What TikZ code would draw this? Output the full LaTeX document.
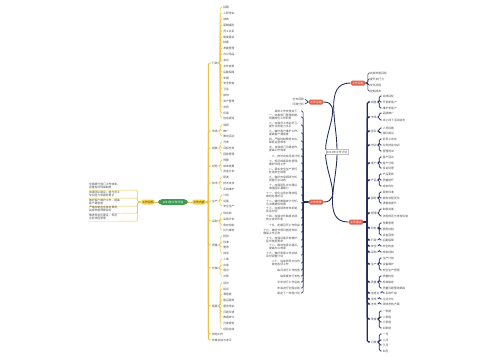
\documentclass[tikz,border=0pt]{standalone}
\usepackage{fontspec}
\newfontfamily\cjk{Noto Sans CJK SC}
\usepackage{tikz}
\usetikzlibrary{positioning}
\definecolor{ygold}{HTML}{EBC247}
\definecolor{yfill}{HTML}{F6D145}
\definecolor{mapgreen}{HTML}{3F9B55}
\definecolor{mapred}{HTML}{E0604A}
\definecolor{navy}{HTML}{242B58}
\newcommand{\mapfont}{\cjk\fontsize{1.6}{2.0}\selectfont}
\tikzstyle{ybox} = [rectangle, rounded corners=1.5pt, fill=yfill,
    minimum width=0.28cm, minimum height=0.1cm, inner sep=0.3pt, font=\mapfont, text=black!80]
\tikzstyle{gbox} = [rectangle, rounded corners=2.5pt, fill=mapgreen,
    minimum width=0.6cm, minimum height=0.12cm, inner sep=0.3pt, font=\mapfont, text=white]
\tikzstyle{rbox} = [rectangle, rounded corners=1pt, fill=mapred,
    minimum width=0.3cm, minimum height=0.1cm, inner sep=0.3pt, font=\mapfont, text=white]
\tikzstyle{leaf} = [inner sep=0.4pt, font=\mapfont, text=black!70, anchor=west, align=left]
\tikzstyle{yline} = [draw=ygold, line width=0.3pt, rounded corners=0.8pt]
\tikzstyle{nline} = [draw=navy, line width=0.35pt, rounded corners=0.8pt]

\begin{document}
\begin{tikzpicture}[x=0.02cm,y=-0.02cm]
    \useasboundingbox (0,0) rectangle (500,360);
    % Place nodes (left map)
    \node [gbox] (lroot) at (173,202) {2021年工作计划};
    \node [ybox] (goal) at (148,202) {工作目标};
    \node [ybox] (work) at (199,202) {工作内容};
    % Draw edges
    \draw [yline, line width=0.5pt] (lroot) -- (goal);
    \draw [yline, line width=0.5pt] (lroot) -- (work);
    \foreach \y/\t [count=\i] in {186/{全面提升部门工作效率，\\完善各项规章制度},
        194/{加强团队建设，提升员工\\专业能力和服务意识},
        202/{做好客户维护工作，提高\\客户满意度},
        209/{严格控制各项成本费用，\\完成年度预算目标},
        217/{推进信息化建设，规范\\业务流程管理}} {
        \node [leaf] (g\i) at (88,\y) {\t};
        \draw [draw=yfill!35, line width=0.3pt] (g\i.south west) -- (g\i.south east);
        \draw [yline] (goal.west) -- ++(-3,0) |- (g\i.south east);
    }
    \foreach \g/\cy/\lab/\items in {
        A/63/行政/{7/招聘,13/入职培训,19/绩效,25/薪酬福利,31/员工关系,37/制度建设,42/档案,48/考勤管理,54/办公用品,60/会议,66/文件收发,72/后勤保障,78/车辆,83/安全检查,89/卫生,95/接待,101/资产管理,107/合同,113/印章,118/信息报送},
        B/131/市场/{125/调研,131/推广,136/策划活动},
        C/148/销售/{142/开发,148/目标任务,154/回款管理},
        D/166/财务/{160/预算,166/成本核算,171/资金计划},
        E/183/技术/{177/研发,183/技术支持,189/系统维护},
        F/201/生产/{195/计划,201/设备,206/安全生产},
        G/221/采购/{213/供应商,219/采购计划,225/库存控制,230/比价审核},
        H/245/质量/{236/检验,242/标准,247/整改,253/培训},
        I/268/仓储/{259/入库,265/出库,270/盘点,276/对账},
        J/306/客服/{283/回访,289/投诉,294/满意度,300/售后服务,306/服务培训,312/问题反馈,317/数据统计,323/月度报告,329/经验总结}} {
        \node [leaf] (c\g) at (211,\cy) {\lab};
        \draw [yline, line width=0.5pt] (work.east) -- ++(2,0) |- (c\g.west);
        \path (c\g.east) ++(3.5,0) coordinate (c\g x);
        \foreach \y/\t [count=\i] in \items {
            \node [leaf] (c\g\i) at (c\g x |- 0,\y) {\t};
            \draw [yline] (c\g.east) -- ++(1.5,0) |- (c\g\i.west);
        }
    }
    \node [leaf] (cK) at (211,334) {其他工作};
    \node [leaf] (cL) at (211,340) {年度总结与考评};
    \draw [yline, line width=0.5pt] (work.east) -- ++(2,0) |- (cK.west);
    \draw [yline, line width=0.5pt] (work.east) -- ++(2,0) |- (cL.west);

    % Place nodes (right map)
    \node [leaf, anchor=center, draw=black!25, line width=0.2pt, fill=white,
        inner sep=0.6pt] (rroot) at (337,152) {2021年工作计划};
    \node [rbox] (r1) at (316,102) {工作总结};
    \node [rbox] (r2) at (316,202) {工作安排};
    \node [rbox] (r3) at (358,83) {工作目标};
    \node [rbox] (r4) at (356,222) {工作重点};
    % Draw edges
    \draw [nline, line width=0.5pt] (rroot.north west) to[out=90,in=0] (r1.east);
    \draw [nline, line width=0.5pt] (rroot.south west) to[out=-90,in=0] (r2.east);
    \draw [nline, line width=0.5pt] (rroot.north) to[out=90,in=180] (r3.west);
    \draw [nline, line width=0.5pt] (rroot.south) to[out=-90,in=180] (r4.west);
    \foreach \y/\t [count=\i] in {99/全年回顾,104/问题分析} {
        \node [leaf, anchor=east] (p\i) at (305,\y) {\t};
        \draw [nline] (r1.west) to[out=180,in=0] (p\i.east);
    }
    \foreach \y/\t [count=\i] in {111/具体工作安排如下：,
        117/{一、完善部门管理制度，\\明确岗位工作职责},
        125/{二、加强员工培训学习，\\提升业务能力水平},
        133/{三、做好客户维护工作，\\提高客户满意度},
        141/{四、严格控制费用支出，\\降低运营成本},
        149/{五、加强部门沟通协作，\\提高工作效率},
        156/六、按时完成月度计划,
        163/{七、规范档案资料管理，\\做好归档工作},
        171/{八、落实安全生产责任，\\杜绝安全隐患},
        179/{九、做好市场调研分析，\\把握行业动态},
        187/{十、加强团队文化建设，\\增强团队凝聚力},
        195/{十一、优化业务办理流程，\\缩短办理时间},
        203/{十二、做好数据统计分析，\\为决策提供依据},
        210/{十三、完善绩效考核机制，\\奖惩分明},
        218/{十四、加强对外联络协调，\\树立良好形象},
        225/十五、定期召开工作例会,
        232/{十六、做好节假日值班安排，\\确保工作正常},
        240/{十七、加强设备日常维护，\\延长使用寿命},
        247/{十八、推进信息化建设，\\提高办公效率},
        255/{十九、做好季度工作总结，\\及时调整计划},
        263/{二十、完成领导交办的\\其他各项工作},
        270/每月进行工作检查,
        276/每季度进行考核,
        282/半年进行工作总结,
        288/年底进行全面总结,
        293/制定下一年度计划} {
        \node [leaf, anchor=east] (q\i) at (301,\y) {\t};
        \draw [nline] (r2.west) -- ++(-5,0) |- (q\i.east);
    }
    \foreach \y/\t [count=\i] in {73/完成年度目标,79/提升执行力,85/优化流程,91/控制成本} {
        \node [leaf] (s\i) at (369,\y) {\t};
        \draw [nline] (r3.east) -- ++(2,0) |- (s\i.west);
    }
    \foreach \g/\cy/\lab/\items in {
        1/102/销售/{96/完成目标,102/开拓新客户,108/维护老客户},
        2/117/市场/{113/品牌推广,120/线上线下活动结合},
        3/131/团队/{128/人员招聘,133/梯队建设},
        4/145/培训/{139/新员工培训,145/业务技能培训,151/管理培训},
        5/163/客户/{157/客户回访,163/客户分级,168/投诉处理},
        6/180/产品/{174/产品更新,180/质量提升,186/成本优化},
        7/198/服务/{192/服务标准,198/服务流程优化,203/满意度提升},
        8/213/管理/{209/制度完善,216/流程规范与考核机制},
        9/228/财务/{223/预算管理,229/费用控制,235/资金回笼},
        10/240/行政/{240/后勤保障},
        11/246/安全/{246/安全检查},
        12/252/采购/{252/成本控制},
        13/264/生产/{258/生产计划,264/设备维护,270/安全生产管理},
        14/282/质量/{276/质量检验,282/标准制定,288/质量问题整改跟踪},
        15/293/信息化/{293/系统升级},
        16/299/宣传/{299/企业文化},
        17/304/考核/{304/绩效考核方案},
        18/319/季度/{311/一季度,317/二季度,322/三季度,328/四季度},
        19/342/月度/{334/一月,340/二月,345/三月,351/四月}} {
        \node [leaf] (k\g) at (370,\cy) {\lab};
        \draw [nline, line width=0.7pt] (r4.east) -- ++(3.5,0) |- (k\g.west);
        \path (k\g.east) ++(4,0) coordinate (k\g x);
        \foreach \y/\t [count=\i] in \items {
            \node [leaf] (k\g-\i) at (k\g x |- 0,\y) {\t};
            \draw [nline] (k\g.east) -- ++(1.5,0) |- (k\g-\i.west);
        }
    }
\end{tikzpicture}
\end{document}
